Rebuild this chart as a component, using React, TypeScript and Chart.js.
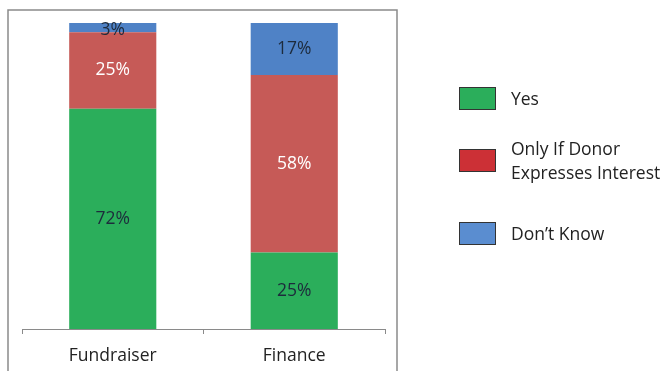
import React, { useEffect, useRef } from "react";
import { Chart, registerables } from "chart.js";

Chart.register(...registerables);

const categories = ["Fundraiser", "Finance"];
const seriesNames = ["Yes", "Only If Donor Expresses Interest", "Don\u2019t Know"];
const yesValues = [72, 25];
const onlyIfValues = [25, 58];
const dontKnowValues = [3, 17];

const barColors = ["#2bae5b", "#c65a57", "#4f82c6"];
const legendColors = ["#2bae5b", "#cc3036", "#5a8dd0"];
const labelColors = [
  ["#1d2b3c", "#1d2b3c"],
  ["#ffffff", "#ffffff"],
  ["#1d2b3c", "#1d2b3c"],
];

const FONT = "'Open Sans', sans-serif";

const frameAndLabels = {
  id: "frameAndLabels",
  beforeDraw(chart: any) {
    const { ctx, chartArea } = chart;
    ctx.save();
    ctx.strokeStyle = "#8a8a8a";
    ctx.lineWidth = 1.5;
    ctx.strokeRect(chartArea.left - 14, chartArea.top - 13, chartArea.right - chartArea.left + 26, 400);
    ctx.restore();
  },
  afterDatasetsDraw(chart: any) {
    const { ctx } = chart;
    ctx.save();
    ctx.font = `17.5px ${FONT}`;
    ctx.textAlign = "center";
    ctx.textBaseline = "middle";
    chart.data.datasets.forEach((ds: any, di: number) => {
      const meta = chart.getDatasetMeta(di);
      meta.data.forEach((bar: any, i: number) => {
        const v = ds.data[i];
        const y = (bar.y + bar.base) / 2;
        ctx.fillStyle = labelColors[di][i];
        ctx.fillText(`${v}%`, bar.x, y + (v < 5 ? 2 : 0));
      });
    });
    ctx.restore();
  },
};

export default function App() {
  const ref = useRef<HTMLCanvasElement>(null);
  useEffect(() => {
    document.body.style.margin = "0";
    const chart = new Chart(ref.current!, {
      type: "bar",
      data: {
        labels: categories,
        datasets: [yesValues, onlyIfValues, dontKnowValues].map((d, i) => ({
          label: seriesNames[i],
          data: d,
          backgroundColor: barColors[i],
          borderWidth: 0,
          barPercentage: 0.96,
          categoryPercentage: 0.5,
        })),
      },
      options: {
        animation: false,
        responsive: false,
        layout: { padding: { left: 22, right: 284, top: 23, bottom: 0 } },
        plugins: { legend: { display: false }, tooltip: { enabled: false } },
        scales: {
          x: {
            stacked: true,
            grid: {
              display: true,
              drawOnChartArea: false,
              drawTicks: true,
              tickLength: 5,
              color: "#8a8a8a",
              offset: true,
            },
            border: { display: true, color: "#8a8a8a", width: 1 },
            ticks: { color: "#222", font: { family: FONT, size: 17.5 }, padding: 12 },
            afterFit: (s: any) => {
              s.height = 42;
            },
          },
          y: { stacked: true, display: false, min: 0, max: 100 },
        },
      },
      plugins: [frameAndLabels],
    });
    return () => chart.destroy();
  }, []);

  const legendItems = [
    { lines: ["Yes"], top: 87 },
    { lines: ["Only If Donor", "Expresses Interest"], top: 149 },
    { lines: ["Don\u2019t Know"], top: 222 },
  ];

  return (
    <div style={{ position: "relative", width: 669, height: 371, background: "#fff", overflow: "hidden" }}>
      <canvas ref={ref} width={669} height={371} style={{ position: "absolute", left: 0, top: 0 }} />
      {legendItems.map((it, i) => (
        <div key={i}>
          <div
            style={{
              position: "absolute",
              left: 459,
              top: it.top,
              width: 35,
              height: 21,
              background: legendColors[i],
              border: "1px solid #333",
            }}
          />
          <div
            style={{
              position: "absolute",
              left: 511,
              top: it.top + 11 - (it.lines.length * 24) / 2,
              fontFamily: FONT,
              fontSize: 17.5,
              lineHeight: "24px",
              color: "#222",
              whiteSpace: "nowrap",
            }}
          >
            {it.lines.map((l, j) => (
              <div key={j}>{l}</div>
            ))}
          </div>
        </div>
      ))}
    </div>
  );
}
